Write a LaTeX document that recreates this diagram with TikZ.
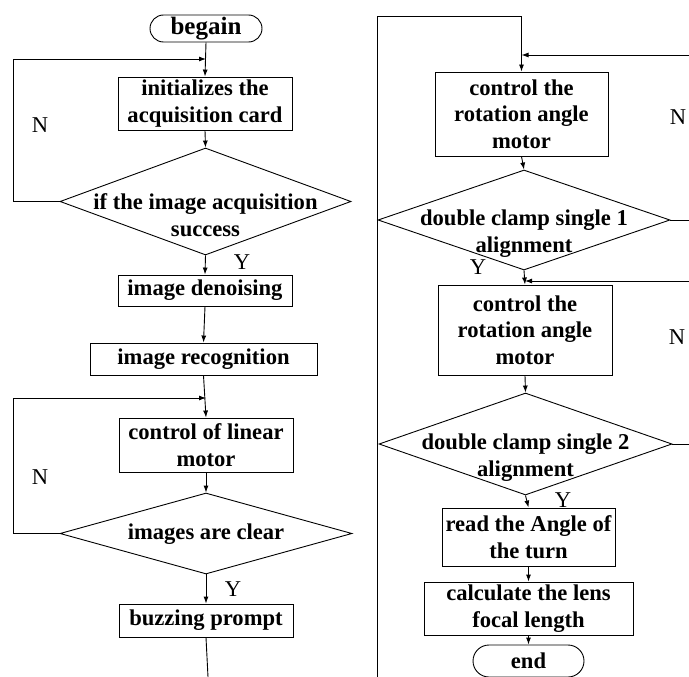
\documentclass[tikz,border=0pt]{standalone}
\usepackage{fontspec}
\setmainfont{Liberation Serif}
\usetikzlibrary{arrows.meta,shapes.geometric}
\begin{document}
\begin{tikzpicture}[x=1pt,y=-1pt,
  line width=0.9pt,
  txt/.style={font=\fontsize{22.6}{26.5}\selectfont\bfseries},
  procbox/.style={draw, rectangle, txt, align=center, inner sep=0pt},
  termbox/.style={draw, rectangle, txt, inner sep=0pt},
  dia/.style={draw, diamond, inner sep=0pt},
  diatext/.style={txt, align=center, inner sep=0pt},
  lbl/.style={font=\fontsize{22.6}{26}\selectfont, inner sep=0pt},
  arr/.style={-{Latex[length=7pt,width=5pt]}}
]
\useasboundingbox (0,0) rectangle (689,677);
\clip (0,0) rectangle (689,677);

% ---------- left column ----------
\node[termbox, rounded corners=13.5pt, minimum width=112pt, minimum height=27pt,
      font=\fontsize{25}{28}\selectfont\bfseries] (begin) at (206,28.5) {begain};
\node[procbox, minimum width=174pt, minimum height=53pt] (init) at (205,103.5)
  {initializes the\\acquisition card};
\node[dia, minimum width=291pt, minimum height=107pt] (d1) at (205.5,201.5) {};
\node[diatext] (d1t) at (205.5,215) {if the image acquisition\\success};
\node[procbox, minimum width=174pt, minimum height=31pt] (denoise) at (205,290.5) {image denoising};
\node[procbox, minimum width=227pt, minimum height=32pt] (recog) at (203.5,359) {image recognition};
\node[procbox, minimum width=174pt, minimum height=54pt] (linear) at (206,445)
  {control of linear\\motor};
\node[dia, minimum width=292pt, minimum height=81pt] (d2) at (206,533.5) {};
\node[diatext] (d2t) at (206,534) {images are clear};
\node[procbox, minimum width=174pt, minimum height=33pt] (buzz) at (206,620.5) {buzzing prompt};

\coordinate (j1) at (206,59);
\coordinate (j2) at (206,398);
\coordinate (lb) at (208,677);

\draw[arr] (begin.south) -- (init.north);
\draw[arr] (init.south) -- (d1.north);
\draw[arr] (d1.west) -- (13,201.5) |- (j1);
\draw[arr] (d1.south) -- (denoise.north);
\draw[arr] (denoise.south) -- (recog.north);
\draw[arr] (recog.south) -- (linear.north);
\draw[arr] (d2.west) -- (13,533.5) |- (j2);
\draw[arr] (linear.south) -- (d2.north);
\draw[arr] (d2.south) -- (buzz.north);
\draw (buzz.south) -- (lb);

\node[lbl] (n1) at (40,125) {N};
\node[lbl] (n2) at (40,477) {N};
\node[lbl] (y1) at (242,262) {Y};
\node[lbl] (y2) at (233,589) {Y};

% ---------- right column ----------
\node[procbox, minimum width=173pt, minimum height=84pt] (r1) at (521.5,114)
  {control the\\rotation angle\\motor};
\node[dia, minimum width=292pt, minimum height=100pt] (dr1) at (524,220) {};
\node[diatext] (dr1t) at (524,233.5) {double clamp single 1\\alignment};
\node[procbox, minimum width=174pt, minimum height=90pt] (r2) at (525,330)
  {control the\\rotation angle\\motor};
\node[dia, minimum width=293pt, minimum height=102pt] (dr2) at (525.5,444) {};
\node[diatext] (dr2t) at (525.5,457.5) {double clamp single 2\\alignment};
\node[procbox, minimum width=173pt, minimum height=58pt] (read) at (528.5,537)
  {read the Angle of\\the turn};
\node[procbox, minimum width=209pt, minimum height=53pt] (calc) at (528.5,608.5)
  {calculate the lens\\focal length};
\node[termbox, rounded corners=16pt, minimum width=111pt, minimum height=32pt] (end) at (528.5,661) {end};

\coordinate (rb) at (377,677);
\coordinate (rt) at (377,16);
\coordinate (e1) at (689,55);
\coordinate (e2) at (689,220);
\coordinate (e3) at (689,281);
\coordinate (e4) at (689,444);

\draw[arr] (rb) -- (rt) -| (r1.north);
\draw[arr] (e1) -- (r1.north |- e1);
\draw[arr] (r1.south) -- (dr1.north);
\draw (dr1.east) -- (e2);
\draw[arr] (dr1.south) -- (r2.north);
\draw[arr] (e3) -- (r2.north |- e3);
\draw[arr] (r2.south) -- (dr2.north);
\draw (dr2.east) -- (e4);
\draw[arr] (dr2.south) -- (read.north);
\draw[arr] (read.south) -- (calc.north);
\draw[arr] (calc.south) -- (end.north);

\node[lbl] (n3) at (678,117) {N};
\node[lbl] (n4) at (677,337) {N};
\node[lbl] (y3) at (478,267) {Y};
\node[lbl] (y4) at (563,500) {Y};
\end{tikzpicture}
\end{document}
